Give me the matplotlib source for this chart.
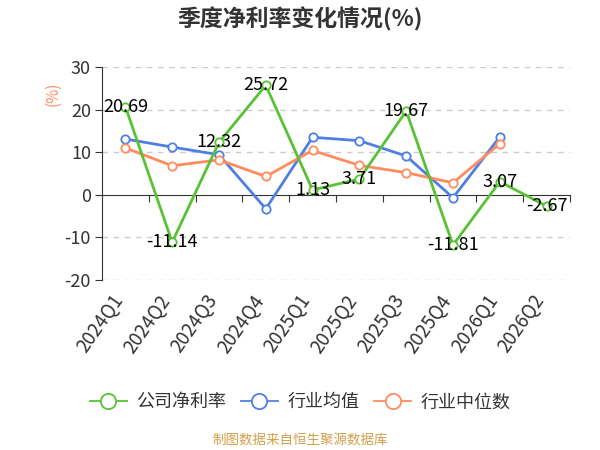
import matplotlib
matplotlib.use("Agg")
import matplotlib.pyplot as plt
from matplotlib.lines import Line2D

plt.rcParams['font.family'] = ['Noto Sans CJK SC', 'DejaVu Sans']

# data
quarters = ['2024Q1', '2024Q2', '2024Q3', '2024Q4', '2025Q1',
            '2025Q2', '2025Q3', '2025Q4', '2026Q1', '2026Q2']
company = [20.69, -11.14, 12.32, 25.72, 1.13, 3.71, 19.67, -11.81, 3.07, -2.67]
ind_mean = [13.1, 11.2, 9.4, -3.3, 13.5, 12.7, 9.1, -0.7, 13.6]
ind_median = [11.0, 6.8, 8.2, 4.3, 10.4, 6.9, 5.2, 2.8, 12.0]
y_ticks = [-20, -10, 0, 10, 20, 30]

GREEN = '#58c234'
BLUE = '#4f7fe3'
ORANGE = '#ff8c5e'
TXT = '#333333'

fig = plt.figure(figsize=(6, 4.5), dpi=100)
ax = fig.add_axes([0.17, 0.378, 0.78, 0.473])

x = list(range(len(quarters)))
mk = dict(marker='o', markersize=6, markerfacecolor='white', markeredgewidth=1.3, linewidth=2)
ax.plot(x[:len(ind_mean)], ind_mean, color=BLUE, zorder=3, **mk)
ax.plot(x[:len(ind_median)], ind_median, color=ORANGE, zorder=3, **mk)
ax.plot(x, company, color=GREEN, zorder=4, **mk)

for xi, v in zip(x, company):
    ax.text(xi, v, f'{v:.2f}', ha='center', va='center', fontsize=13,
            color='black', zorder=5)

ax.set_xlim(-0.5, len(quarters) - 0.5)
ax.set_ylim(-20, 30)
ax.set_yticks(y_ticks)
ax.set_yticklabels([str(t) for t in y_ticks], fontsize=13, color=TXT)
ax.tick_params(axis='y', length=5, color=TXT, pad=3)
for t in y_ticks:
    if t != 0:
        ax.axhline(t, color='#cccccc', linestyle=(0, (4, 4)), linewidth=1, zorder=1)

# x axis sits on zero, labels at the bottom
ax.spines['bottom'].set_position(('data', 0))
ax.spines['bottom'].set_color(TXT)
ax.spines['left'].set_color(TXT)
ax.spines['top'].set_visible(False)
ax.spines['right'].set_visible(False)
ax.set_xticks([i + 0.5 for i in x])
ax.set_xticklabels([])
ax.tick_params(axis='x', length=5, color=TXT, direction='out')
for xi, q in zip(x, quarters):
    ax.text(xi + 0.05, -0.05, q, transform=ax.get_xaxis_transform(), rotation=55,
            ha='right', va='top', fontsize=13.5, color=TXT)

fig.text(0.5, 0.957, '季度净利率变化情况(%)', ha='center', va='center',
         fontsize=16.5, fontweight='bold', color=TXT)
fig.text(0.088, 0.791, '(%)', rotation=90, ha='center', va='center',
         fontsize=11, color=ORANGE)

handles = [Line2D([0], [0], color=c, linewidth=1.3, marker='o', markersize=11,
                  markerfacecolor='white', markeredgewidth=1.3)
           for c in (GREEN, BLUE, ORANGE)]
fig.legend(handles, ['公司净利率', '行业均值', '行业中位数'], loc='center',
           bbox_to_anchor=(0.5, 0.106), ncol=3, frameon=False, fontsize=13,
           handlelength=2.05, handletextpad=0.5, columnspacing=0.85,
           labelcolor=TXT)

fig.text(0.5, 0.024, '制图数据来自恒生聚源数据库', ha='center', va='center',
         fontsize=9.7, color='#d4a048')

fig.savefig('out.png', dpi=100)
